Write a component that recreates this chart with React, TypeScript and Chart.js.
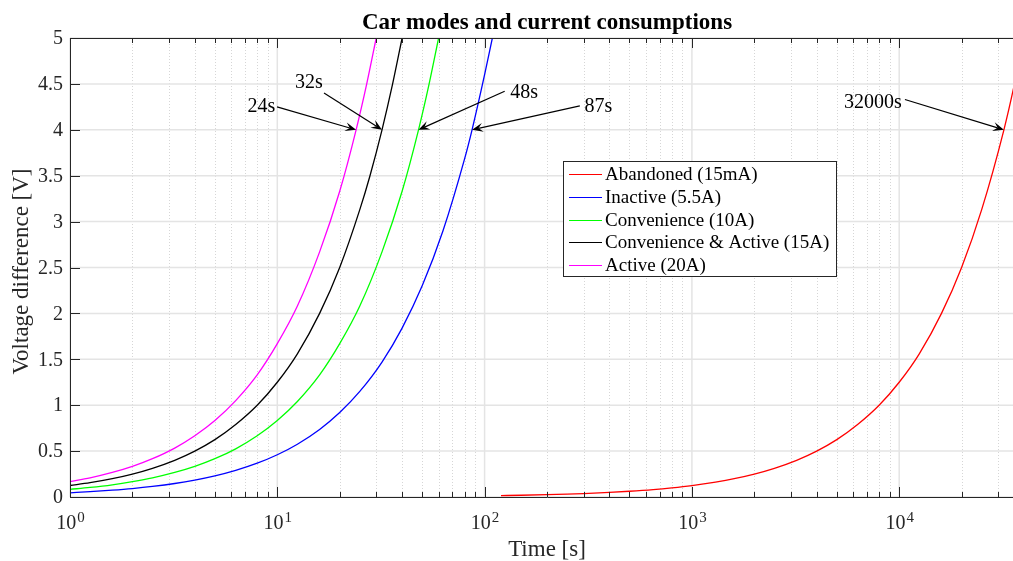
import React, { useEffect, useRef } from "react";
import { Chart, registerables } from "chart.js";

Chart.register(...registerables);

const SERIF = '"Liberation Serif", "Times New Roman", Times, serif';
const AXIS_COLOR = "#262626";

const chartTitle = "Car modes and current consumptions";
const xAxisTitle = "Time [s]";
const yAxisTitle = "Voltage difference [V]";

const xMin = 1;
const xMax = 40000;
const yMin = 0;
const yMax = 5;
const xTickExponents = [0, 1, 2, 3, 4];
const yTickValues = [0, 0.5, 1, 1.5, 2, 2.5, 3, 3.5, 4, 4.5, 5];
const yTickLabels = ["0", "0.5", "1", "1.5", "2", "2.5", "3", "3.5", "4", "4.5", "5"];

const seriesNames = [
  "Abandoned (15mA)",
  "Inactive (5.5A)",
  "Convenience (10A)",
  "Convenience & Active (15A)",
  "Active (20A)",
];
const seriesColors = ["#ff0000", "#0000ff", "#00ff00", "#000000", "#ff00ff"];

const abandonedTime = [120, 150, 200, 250, 300, 400, 500, 650, 800, 1000, 1300, 1600, 2000, 2500, 3200, 4000, 5000, 6300, 8000, 10000, 12500, 16000, 20000, 25000, 32000, 36000, 40000];
const abandonedVolt = [0.015, 0.019, 0.025, 0.031, 0.0375, 0.05, 0.0625, 0.081, 0.1, 0.125, 0.163, 0.2, 0.25, 0.313, 0.4, 0.5, 0.625, 0.79, 1.0, 1.25, 1.56, 2.0, 2.5, 3.13, 4.0, 4.5, 5.0];

const inactiveTime = [1, 1.25, 1.6, 2, 2.5, 3.2, 4, 5, 6.3, 8, 10, 12.5, 16, 20, 25, 32, 40, 50, 63, 80, 87, 100, 109];
const inactiveVolt = [0.046, 0.0575, 0.074, 0.092, 0.115, 0.147, 0.184, 0.23, 0.29, 0.368, 0.46, 0.575, 0.736, 0.92, 1.15, 1.47, 1.84, 2.3, 2.9, 3.68, 4.0, 4.6, 5.0];

const convenienceTime = [1, 1.25, 1.6, 2, 2.5, 3.2, 4, 5, 6.3, 8, 10, 12.5, 16, 20, 25, 32, 40, 48, 54, 60];
const convenienceVolt = [0.083, 0.104, 0.133, 0.167, 0.208, 0.267, 0.333, 0.417, 0.525, 0.667, 0.833, 1.04, 1.33, 1.67, 2.08, 2.67, 3.33, 4.0, 4.5, 5.0];

const convActiveTime = [1, 1.25, 1.6, 2, 2.5, 3.2, 4, 5, 6.3, 8, 10, 12.5, 16, 20, 25, 28, 32, 36, 40];
const convActiveVolt = [0.125, 0.156, 0.2, 0.25, 0.313, 0.4, 0.5, 0.625, 0.79, 1.0, 1.25, 1.56, 2.0, 2.5, 3.13, 3.5, 4.0, 4.5, 5.0];

const activeTime = [1, 1.25, 1.6, 2, 2.5, 3.2, 4, 5, 6.3, 8, 10, 12.5, 16, 20, 24, 27, 30];
const activeVolt = [0.167, 0.208, 0.267, 0.333, 0.417, 0.533, 0.667, 0.833, 1.05, 1.33, 1.67, 2.08, 2.67, 3.33, 4.0, 4.5, 5.0];

const seriesTimes = [abandonedTime, inactiveTime, convenienceTime, convActiveTime, activeTime];
const seriesVolts = [abandonedVolt, inactiveVolt, convenienceVolt, convActiveVolt, activeVolt];

// annotations (arrows with labels), data coordinates
const noteLabels = ["24s", "32s", "48s", "87s", "32000s"];
const noteTipTime = [24, 32, 48, 87, 32000];
const noteTipVolt = [4, 4, 4, 4, 4];
const noteTailTime = [9.97, 16.8, 125, 288, 10660];
const noteTailVolt = [4.25, 4.4, 4.42, 4.26, 4.33];
const noteTextTime = [8.39, 14.2, 155, 354, 7474];
const noteTextVolt = [4.25, 4.51, 4.4, 4.25, 4.3];

const gridPlugin = {
  id: "matlabGrid",
  beforeDatasetsDraw(chart: any) {
    const { ctx, chartArea: a, scales } = chart;
    const xs = scales.x;
    const ys = scales.y;
    ctx.save();
    ctx.lineWidth = 1;
    ctx.strokeStyle = "#d6d6d6";
    ctx.setLineDash([1, 2]);
    for (let d = 0; d <= 4; d++) {
      for (let m = 2; m <= 9; m++) {
        const t = m * Math.pow(10, d);
        if (t > xMax) continue;
        const px = Math.round(xs.getPixelForValue(t)) + 0.5;
        ctx.beginPath();
        ctx.moveTo(px, a.top);
        ctx.lineTo(px, a.bottom);
        ctx.stroke();
      }
    }
    ctx.setLineDash([]);
    ctx.strokeStyle = "#e4e4e4";
    ctx.lineWidth = 1.5;
    for (const e of xTickExponents) {
      const px = xs.getPixelForValue(Math.pow(10, e));
      ctx.beginPath();
      ctx.moveTo(px, a.top);
      ctx.lineTo(px, a.bottom);
      ctx.stroke();
    }
    for (const v of yTickValues) {
      const py = ys.getPixelForValue(v);
      ctx.beginPath();
      ctx.moveTo(a.left, py);
      ctx.lineTo(a.right, py);
      ctx.stroke();
    }
    ctx.restore();
  },
};

function drawArrow(ctx: CanvasRenderingContext2D, x0: number, y0: number, x1: number, y1: number) {
  const dx = x1 - x0;
  const dy = y1 - y0;
  const len = Math.hypot(dx, dy);
  const ux = dx / len;
  const uy = dy / len;
  const nx = -uy;
  const ny = ux;
  const L = 11;
  const W = 9;
  ctx.beginPath();
  ctx.moveTo(x0, y0);
  ctx.lineTo(x1 - ux * L * 0.6, y1 - uy * L * 0.6);
  ctx.stroke();
  ctx.beginPath();
  ctx.moveTo(x1, y1);
  ctx.lineTo(x1 - ux * L + nx * W / 2, y1 - uy * L + ny * W / 2);
  ctx.lineTo(x1 - ux * L * 0.6, y1 - uy * L * 0.6);
  ctx.lineTo(x1 - ux * L - nx * W / 2, y1 - uy * L - ny * W / 2);
  ctx.closePath();
  ctx.fill();
}

const decorPlugin = {
  id: "matlabDecor",
  afterDatasetsDraw(chart: any) {
    const { ctx, chartArea: a, scales } = chart;
    const xs = scales.x;
    const ys = scales.y;
    ctx.save();

    // axes box
    ctx.strokeStyle = AXIS_COLOR;
    ctx.lineWidth = 1;
    ctx.beginPath();
    ctx.moveTo(Math.round(a.left) + 0.5, Math.round(a.top) + 0.5);
    ctx.lineTo(Math.round(a.left) + 0.5, Math.round(a.bottom) + 0.5);
    ctx.lineTo(Math.round(a.right) + 0.5, Math.round(a.bottom) + 0.5);
    ctx.lineTo(Math.round(a.right) + 0.5, Math.round(a.top) + 0.5);
    ctx.closePath();
    ctx.stroke();

    // x ticks (inward, bottom and top)
    for (let d = 0; d <= 4; d++) {
      for (let m = 1; m <= 9; m++) {
        const t = m * Math.pow(10, d);
        if (t > xMax) continue;
        const px = Math.round(xs.getPixelForValue(t)) + 0.5;
        const tl = m === 1 ? 10 : 5;
        ctx.beginPath();
        ctx.moveTo(px, a.bottom);
        ctx.lineTo(px, a.bottom - tl);
        ctx.moveTo(px, a.top);
        ctx.lineTo(px, a.top + tl);
        ctx.stroke();
      }
    }
    // y ticks (inward, left and right)
    for (const v of yTickValues) {
      const py = Math.round(ys.getPixelForValue(v)) + 0.5;
      ctx.beginPath();
      ctx.moveTo(a.left, py);
      ctx.lineTo(a.left + 10, py);
      ctx.moveTo(a.right, py);
      ctx.lineTo(a.right - 10, py);
      ctx.stroke();
    }

    // y tick labels
    ctx.fillStyle = AXIS_COLOR;
    ctx.font = `20px ${SERIF}`;
    ctx.textAlign = "right";
    ctx.textBaseline = "middle";
    yTickValues.forEach((v, i) => {
      ctx.fillText(yTickLabels[i], a.left - 7, ys.getPixelForValue(v) + 1);
    });

    // x tick labels 10^n
    ctx.textBaseline = "alphabetic";
    ctx.textAlign = "left";
    for (const e of xTickExponents) {
      const px = xs.getPixelForValue(Math.pow(10, e));
      ctx.font = `20px ${SERIF}`;
      const wb = ctx.measureText("10").width;
      ctx.font = `15px ${SERIF}`;
      const we = ctx.measureText(String(e)).width;
      const start = px - (wb + we) / 2;
      ctx.font = `20px ${SERIF}`;
      ctx.fillText("10", start, a.bottom + 32);
      ctx.font = `15px ${SERIF}`;
      ctx.fillText(String(e), start + wb + 1, a.bottom + 25);
    }

    // axis titles
    const cx = (a.left + a.right) / 2;
    ctx.font = `23px ${SERIF}`;
    ctx.textAlign = "center";
    ctx.textBaseline = "middle";
    ctx.fillText(xAxisTitle, cx, a.bottom + 53);
    ctx.save();
    ctx.translate(22, (a.top + a.bottom) / 2 + 4);
    ctx.rotate(-Math.PI / 2);
    ctx.fillText(yAxisTitle, 0, 0);
    ctx.restore();

    // title
    ctx.fillStyle = "#000000";
    ctx.font = `bold 23px ${SERIF}`;
    ctx.textBaseline = "alphabetic";
    ctx.fillText(chartTitle, cx, 29);

    // annotations
    ctx.strokeStyle = "#000000";
    ctx.fillStyle = "#000000";
    ctx.lineWidth = 1.2;
    ctx.font = `20px ${SERIF}`;
    ctx.textAlign = "center";
    ctx.textBaseline = "middle";
    noteLabels.forEach((lab, i) => {
      const tx = xs.getPixelForValue(noteTailTime[i]);
      const ty = ys.getPixelForValue(noteTailVolt[i]);
      const hx = xs.getPixelForValue(noteTipTime[i]);
      const hy = ys.getPixelForValue(noteTipVolt[i]);
      drawArrow(ctx, tx, ty, hx, hy);
      ctx.fillText(lab, xs.getPixelForValue(noteTextTime[i]), ys.getPixelForValue(noteTextVolt[i]));
    });

    // legend box
    const lx = 563;
    const ly = 161;
    const lw = 273;
    const lh = 115;
    ctx.fillStyle = "#ffffff";
    ctx.fillRect(lx, ly, lw, lh);
    ctx.strokeStyle = AXIS_COLOR;
    ctx.lineWidth = 1;
    ctx.strokeRect(lx + 0.5, ly + 0.5, lw, lh);
    ctx.font = `19px ${SERIF}`;
    ctx.textAlign = "left";
    ctx.textBaseline = "middle";
    seriesNames.forEach((name, i) => {
      const ry = ly + 13 + i * 22.8;
      ctx.strokeStyle = seriesColors[i];
      ctx.lineWidth = 1.2;
      ctx.beginPath();
      ctx.moveTo(lx + 6, Math.round(ry) + 0.5);
      ctx.lineTo(lx + 39, Math.round(ry) + 0.5);
      ctx.stroke();
      ctx.fillStyle = "#000000";
      ctx.fillText(name, lx + 42, ry + 1);
    });

    ctx.restore();
  },
};

export default function App() {
  const ref = useRef<HTMLCanvasElement>(null);
  useEffect(() => {
    document.body.style.margin = "0";
    const canvas = ref.current;
    if (!canvas) return;
    const datasets = seriesNames.map((name, i) => ({
      label: name,
      data: seriesTimes[i].map((t, k) => ({ x: t, y: seriesVolts[i][k] })),
      borderColor: seriesColors[i],
      backgroundColor: seriesColors[i],
      borderWidth: 1.3,
      pointRadius: 0,
      fill: false,
      cubicInterpolationMode: "monotone" as const,
      order: seriesNames.length - i,
    }));
    const chart = new Chart(canvas, {
      type: "line",
      data: { datasets },
      options: {
        responsive: false,
        animation: false,
        devicePixelRatio: 1,
        layout: { padding: { left: 70, top: 38, right: 6, bottom: 64 } },
        plugins: {
          legend: { display: false },
          tooltip: { enabled: false },
          title: { display: false },
        },
        scales: {
          x: {
            type: "logarithmic",
            min: xMin,
            max: xMax,
            grid: { display: false },
            border: { display: false },
            ticks: { display: false },
            afterFit: (s: any) => {
              s.height = 0;
            },
          },
          y: {
            type: "linear",
            min: yMin,
            max: yMax,
            grid: { display: false },
            border: { display: false },
            ticks: { display: false },
            afterFit: (s: any) => {
              s.width = 0;
            },
          },
        },
      },
      plugins: [gridPlugin, decorPlugin],
    } as any);
    return () => chart.destroy();
  }, []);
  return (
    <div style={{ width: 1013, height: 561, overflow: "hidden", position: "relative", background: "#ffffff" }}>
      <canvas ref={ref} width={1030} height={561} style={{ display: "block" }} />
    </div>
  );
}
